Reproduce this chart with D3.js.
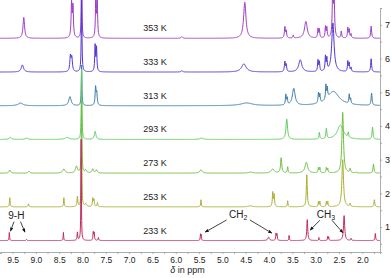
<!DOCTYPE html>
<meta charset="utf-8">
<script src="https://cdn.jsdelivr.net/npm/d3@7"></script>
<style>
  body { margin: 0; background: #fff; }
  text { font-family: "Liberation Sans", Arial, sans-serif; fill: #222; }
</style>
<div id="chart"></div>
<script>

// temperatures, top spectrum first
var temps = ["353 K", "333 K", "313 K", "293 K", "273 K", "253 K", "233 K"];
var traceIndex = [7, 6, 5, 4, 3, 2, 1];

// peaks: [ppm, height (axis units), half width (ppm)]
var peaks353 = [[9.26,0.62,0.02],[8.235,1.0,0.012],[8.205,0.9,0.012],[8.02,2.0,0.008],[7.715,1.2,0.01],[7.685,1.15,0.01],
  [5.87,0.05,0.02],[4.52,1.07,0.03],[3.66,0.33,0.012],[3.63,0.2,0.01],[3.48,0.09,0.01],[3.21,0.5,0.035],
  [2.95,0.27,0.01],[2.92,0.25,0.01],[2.79,0.33,0.01],[2.76,0.3,0.01],[2.635,1.3,0.012],[2.605,1.3,0.012],
  [2.45,0.2,0.01],[2.31,0.3,0.01],[2.28,0.25,0.01],[2.24,0.12,0.01],[1.81,0.36,0.012]];
var peaks333 = [[9.29,0.21,0.03],[8.26,0.45,0.015],[8.23,0.4,0.015],[8.02,2.5,0.008],[7.73,0.77,0.01],[7.70,0.7,0.01],
  [5.87,0.04,0.02],[4.54,0.24,0.06],[3.66,0.3,0.012],[3.63,0.2,0.01],[3.33,0.36,0.04],
  [2.95,0.33,0.01],[2.92,0.28,0.01],[2.79,0.42,0.01],[2.76,0.35,0.01],[2.63,1.45,0.03],
  [2.31,0.3,0.01],[2.28,0.25,0.01],[2.24,0.12,0.01],[1.81,0.39,0.012]];
var peaks313 = [[9.33,0.08,0.06],[8.27,0.27,0.03],[8.02,1.2,0.008],[7.72,0.53,0.012],[7.695,0.35,0.012],
  [4.48,0.08,0.15],[3.64,0.3,0.01],[3.61,0.2,0.01],[3.47,0.5,0.035],[2.94,0.3,0.01],[2.91,0.25,0.01],
  [2.78,0.42,0.01],[2.75,0.3,0.01],[2.62,0.42,0.15],[2.28,0.27,0.01],[2.25,0.15,0.01],[1.80,0.36,0.012]];
var peaks293 = [[9.55,0.06,0.03],[9.2,0.04,0.03],[8.33,0.06,0.05],[8.02,2.08,0.008],[7.73,0.24,0.02],[5.45,0.04,0.04],
  [3.62,0.6,0.02],[2.92,0.2,0.01],[2.77,0.3,0.012],[2.47,0.42,0.08],[2.30,0.15,0.01],[1.78,0.36,0.012]];
var peaks273 = [[9.56,0.09,0.02],[9.15,0.06,0.02],[8.40,0.12,0.03],[8.13,0.2,0.025],[8.02,2.08,0.008],[7.93,0.09,0.02],
  [7.78,0.12,0.02],[7.70,0.09,0.02],[5.46,0.1,0.03],[4.4,0.03,0.05],[3.92,0.12,0.04],[3.74,0.45,0.015],
  [3.60,0.18,0.01],[3.20,0.32,0.035],[2.94,0.15,0.01],[2.91,0.15,0.01],[2.77,0.15,0.01],[2.74,0.12,0.01],
  [2.42,1.8,0.02],[2.26,0.12,0.012],[2.13,0.03,0.01],[1.76,0.27,0.012]];
var peaks253 = [[9.56,0.27,0.008],[9.16,0.09,0.01],[8.40,0.27,0.008],[8.11,0.3,0.01],[8.02,2.0,0.008],[7.93,0.09,0.02],
  [7.78,0.24,0.01],[7.755,0.2,0.01],[7.68,0.12,0.01],[5.46,0.21,0.008],[4.4,0.03,0.05],[3.92,0.42,0.01],[3.89,0.35,0.01],
  [3.60,0.18,0.008],[3.19,0.95,0.012],[2.94,0.15,0.008],[2.91,0.15,0.008],[2.77,0.15,0.008],[2.74,0.15,0.008],
  [2.42,1.4,0.02],[2.26,0.09,0.01],[1.74,0.21,0.01]];
var peaks233 = [[9.57,0.24,0.006],[9.2,0.03,0.01],[8.41,0.24,0.006],[8.11,0.24,0.008],[8.03,3.0,0.006],
  [7.77,0.24,0.008],[7.75,0.22,0.008],[7.66,0.09,0.008],[5.47,0.18,0.006],[5.455,0.16,0.006],[4.01,0.1,0.02],
  [3.85,0.2,0.008],[3.83,0.18,0.008],[3.57,0.15,0.006],[3.18,0.62,0.012],[2.93,0.09,0.006],
  [2.74,0.12,0.006],[2.72,0.1,0.006],[2.39,0.74,0.015],[2.24,0.06,0.008],[1.72,0.21,0.008]];
var allPeaks = [peaks353, peaks333, peaks313, peaks293, peaks273, peaks253, peaks233];

var traceTicks = [1, 2, 3, 4, 5, 6, 7];

var colors = ["#9b3cc8", "#5233d6", "#3b7ba8", "#5ccb5c", "#6cbf3e", "#a9b032", "#c12a62"];

var width = 391, height = 278;

var svg = d3.select("#chart").append("svg")
  .attr("width", width)
  .attr("height", height);

var x = d3.scaleLinear().domain([9.77, 1.62]).range([0, 380]);
var y = d3.scaleLinear().domain([0.26, 7.5]).range([252, 8]);

svg.append("clipPath").attr("id", "clip")
  .append("rect").attr("x", 0).attr("y", 0).attr("width", 380).attr("height", 252);

// x axis, ticks every 0.25 ppm, labels every 0.5
var minor = d3.range(9.75, 1.62, -0.25);
var xAxis = svg.append("g")
  .attr("transform", "translate(0,252)")
  .call(d3.axisBottom(x).tickValues(minor).tickSize(2).tickPadding(3)
    .tickFormat(function(d) { return Math.abs(d * 2 - Math.round(d * 2)) < 1e-6 ? d3.format(".1f")(d) : ""; }));
xAxis.selectAll("path,line").attr("stroke", "#999").attr("stroke-width", 0.8);
xAxis.selectAll("text").style("font-size", "8.5px").attr("fill", "#222");

svg.append("text")
  .attr("x", x(6.12)).attr("y", 273)
  .style("font-size", "9px")
  .html('<tspan font-style="italic">&#948;</tspan> in ppm');

// right axis
var yAxis = svg.append("g")
  .attr("transform", "translate(380,0)")
  .call(d3.axisRight(y).tickValues(d3.range(0.5, 7.6, 0.5)).tickSize(2).tickPadding(3)
    .tickFormat(function(d) { return traceTicks.indexOf(d) >= 0 ? d : ""; }));
yAxis.selectAll("path,line").attr("stroke", "#999").attr("stroke-width", 0.8);
yAxis.selectAll("text").style("font-size", "9px").attr("fill", "#222");

// spectra
function spectrum(peaks, base) {
  var grid = d3.range(9.77, 1.62, -0.004).concat(peaks.map(function(p) { return p[0]; }));
  grid.sort(function(a, b) { return b - a; });
  return grid.map(function(ppm) {
    var v = base;
    peaks.forEach(function(p) {
      var t = (ppm - p[0]) / p[2];
      v += p[1] / (1 + t * t);
    });
    return [ppm, v];
  });
}

var line = d3.line()
  .x(function(d) { return x(d[0]); })
  .y(function(d) { return y(d[1]); });

var g = svg.append("g").attr("clip-path", "url(#clip)");
allPeaks.forEach(function(peaks, i) {
  var base = traceIndex[i] - 0.4;
  g.append("path")
    .datum(spectrum(peaks, base))
    .attr("d", line)
    .attr("fill", "none")
    .attr("stroke", colors[i])
    .attr("stroke-width", 1);
  svg.append("text")
    .attr("x", x(6.7))
    .attr("y", y(base) - 7)
    .style("font-size", "9px")
    .text(temps[i]);
});

// annotations
var defs = svg.append("defs");
defs.append("marker").attr("id", "arrow")
  .attr("viewBox", "0 0 10 10").attr("refX", 9).attr("refY", 5)
  .attr("markerWidth", 5).attr("markerHeight", 5).attr("orient", "auto")
  .append("path").attr("d", "M0,1L10,5L0,9z").attr("fill", "#111");

var labels = [
  { text: "9-H", sub: "", at: [9.42, 1.24], arrows: [[9.47, 1.16, 9.545, 0.88], [9.33, 1.16, 9.235, 0.85]] },
  { text: "CH", sub: "2", at: [4.66, 1.27], arrows: [[4.91, 1.21, 5.37, 0.85], [4.41, 1.21, 3.94, 0.82]] },
  { text: "CH", sub: "3", at: [2.78, 1.27], arrows: [[2.91, 1.2, 3.12, 0.91], [2.65, 1.2, 2.415, 0.83]] }
];

labels.forEach(function(l) {
  var t = svg.append("text")
    .attr("x", x(l.at[0])).attr("y", y(l.at[1]))
    .attr("text-anchor", "middle")
    .style("font-size", "10px")
    .text(l.text);
  if (l.sub) t.append("tspan").attr("dy", 2).style("font-size", "7px").text(l.sub);
  l.arrows.forEach(function(a) {
    svg.append("line")
      .attr("x1", x(a[0])).attr("y1", y(a[1]))
      .attr("x2", x(a[2])).attr("y2", y(a[3]))
      .attr("stroke", "#111").attr("stroke-width", 0.8)
      .attr("marker-end", "url(#arrow)");
  });
});

</script>
